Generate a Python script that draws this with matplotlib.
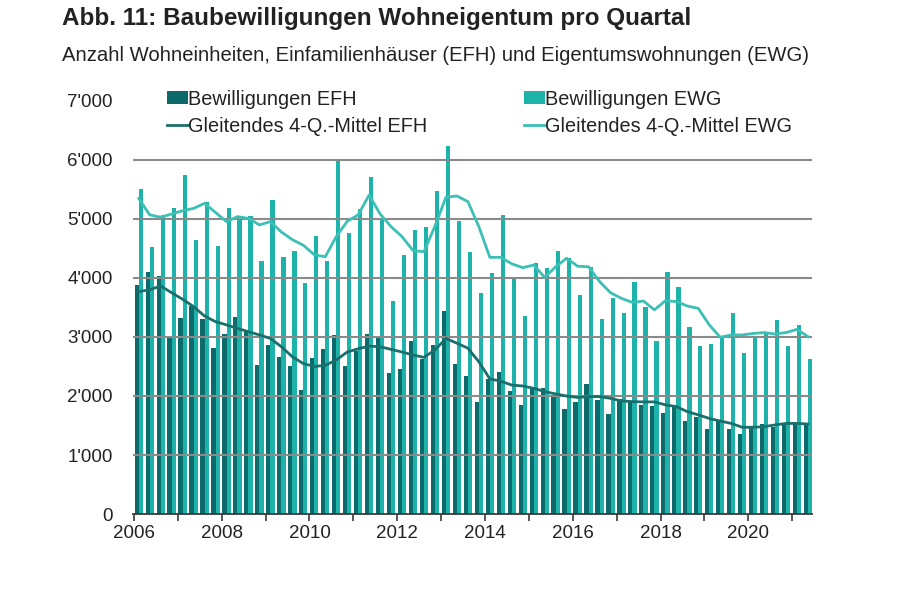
import matplotlib
matplotlib.use("Agg")
import matplotlib.pyplot as plt
import numpy as np

plt.rcParams['font.family'] = ['Liberation Sans', 'DejaVu Sans']

# Baubewilligungen pro Quartal, 2006 Q1 - 2021 Q2
efh = [3880, 4100, 4030, 3010, 3320, 3520, 3300, 2810, 3050, 3340,
       3100, 2530, 2860, 2660, 2500, 2110, 2640, 2790, 3030, 2510,
       2770, 3050, 2980, 2390, 2450, 2940, 2620, 2860, 3440, 2540,
       2335, 1890, 2290, 2400, 2080, 1850, 2120, 2140, 1990, 1780,
       1890, 2200, 1930, 1700, 1950, 1890, 1850, 1830, 1720, 1810,
       1570, 1640, 1440, 1580, 1440, 1350, 1470, 1530, 1480, 1510,
       1530, 1530]
ewg = [5510, 4520, 5070, 5180, 5750, 4650, 5280, 4540, 5180, 5050,
       5050, 4290, 5320, 4350, 4460, 3910, 4720, 4290, 5980, 4760,
       5170, 5710, 4980, 3610, 4390, 4820, 4870, 5480, 6230, 4970,
       4435, 3750, 4090, 5070, 4010, 3350, 4250, 4170, 4460, 4340,
       3720, 4190, 3310, 3660, 3400, 3930, 3500, 2940, 4100, 3840,
       3175, 2840, 2880, 2990, 3400, 2730, 2990, 3060, 3280, 2840,
       3210, 2630]
# gleitende 4-Quartals-Mittel
efh_ma = [3770, 3800, 3865, 3750, 3640, 3515, 3355, 3260, 3205, 3145,
          3090, 3035, 2975, 2835, 2665, 2550, 2500, 2520, 2610, 2745,
          2800, 2845, 2835, 2790, 2745, 2695, 2655, 2780, 2975, 2895,
          2810, 2580, 2290, 2250, 2185, 2170, 2130, 2075, 2035, 2000,
          1975, 1990, 1990, 1960, 1915, 1905, 1900, 1900, 1850, 1820,
          1735, 1680, 1620, 1575, 1535, 1470, 1470, 1480, 1510, 1535,
          1535, 1525]
ewg_ma = [5350, 5070, 5030, 5085, 5140, 5180, 5265, 5110, 4955, 5040,
          5010, 4900, 4955, 4780, 4650, 4555, 4395, 4360, 4700, 4960,
          5070, 5405, 5085, 4870, 4700, 4465, 4445, 4880, 5370, 5390,
          5295, 4870, 4350, 4350, 4240, 4175, 4220, 4010, 4190, 4335,
          4200, 4190, 3940, 3750, 3655, 3585, 3610, 3460, 3615, 3600,
          3525, 3485, 3205, 2995, 3035, 3035, 3060, 3075, 3050, 3075,
          3130, 3005]

yticks = [0, 1000, 2000, 3000, 4000, 5000, 6000, 7000]
ylabels = ["0", "1'000", "2'000", "3'000", "4'000", "5'000", "6'000", "7'000"]

DARK = '#0d6a6b'
LIGHT = '#1db3aa'
DARK_LINE = '#1a6e6c'
LIGHT_LINE = '#3cc0b6'

x = 2006 + np.arange(len(efh)) * 0.25 + 0.11
w = 0.095

fig = plt.figure(figsize=(9, 6.08), dpi=100)
ax = fig.add_axes([0.1478, 0.1546, 0.7544, 0.6793])

b1 = ax.bar(x - w / 2, efh, width=w, color=DARK, zorder=1)
b2 = ax.bar(x + w / 2, ewg, width=w, color=LIGHT, zorder=1)
l1, = ax.plot(x, efh_ma, color=DARK_LINE, lw=2, zorder=3)
l2, = ax.plot(x, ewg_ma, color=LIGHT_LINE, lw=2, zorder=3)

ax.set_xlim(2005.98, 2021.45)
ax.set_ylim(0, 7000)
ax.set_yticks(yticks)
ax.set_yticklabels(ylabels)
ax.set_xticks(range(2006, 2022))
ax.set_xticklabels([str(y) if y % 2 == 0 else '' for y in range(2006, 2022)])

ax.set_axisbelow(False)
ax.yaxis.grid(True, color='#8a8a8a', lw=1.5)
ax.get_ygridlines()[-1].set_visible(False)
ax.get_ygridlines()[0].set_visible(False)

for s in ['top', 'right', 'left']:
    ax.spines[s].set_visible(False)
ax.spines['bottom'].set_color('#3a3a3a')
ax.spines['bottom'].set_linewidth(1.3)
ax.spines['bottom'].set_zorder(4)

ax.tick_params(axis='y', length=0, pad=14.5, labelsize=13.5, labelcolor='#222222')
ax.tick_params(axis='x', length=5, width=1.2, color='#3a3a3a', pad=3,
               labelsize=13.5, labelcolor='#222222')

leg = ax.legend([b1, l1, b2, l2],
                ['Bewilligungen EFH', 'Gleitendes 4-Q.-Mittel EFH',
                 'Bewilligungen EWG', 'Gleitendes 4-Q.-Mittel EWG'],
                ncol=2, loc='upper left', bbox_to_anchor=(0.05, 1.027), frameon=False,
                fontsize=14.3, handlelength=1.05, handleheight=0.65,
                handletextpad=0.0, columnspacing=4.9, labelspacing=0.42,
                borderaxespad=0, borderpad=0)
for t in leg.get_texts():
    t.set_color('#222222')

fig.text(0.069, 0.970, 'Abb. 11: Baubewilligungen Wohneigentum pro Quartal',
         fontsize=17.5, fontweight='bold', color='#222222', va='center', ha='left')
fig.text(0.069, 0.9095, 'Anzahl Wohneinheiten, Einfamilienhäuser (EFH) und Eigentumswohnungen (EWG)',
         fontsize=14.6, color='#222222', va='center', ha='left')

fig.savefig('out.png', dpi=100)
